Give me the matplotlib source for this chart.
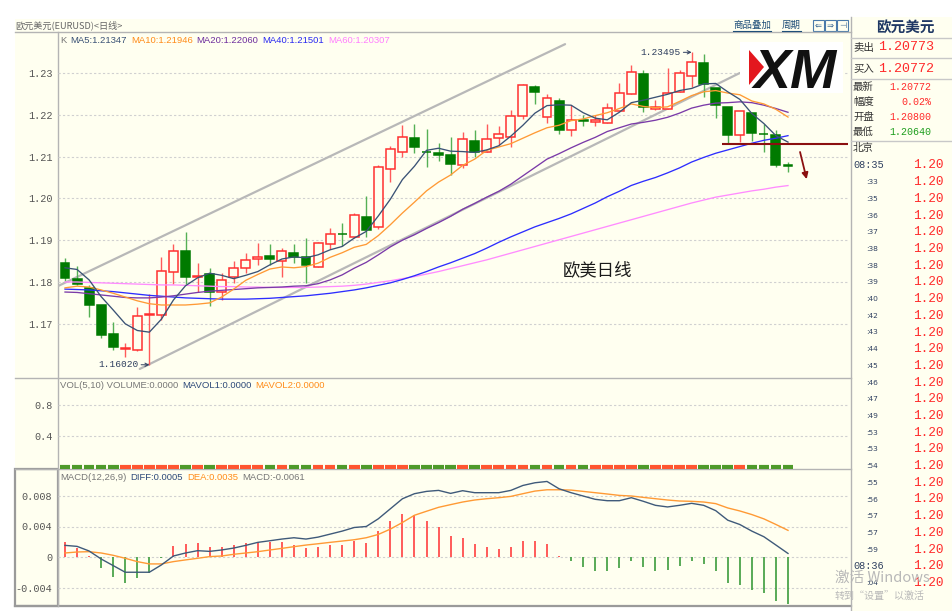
import matplotlib
matplotlib.use("Agg")
import matplotlib.pyplot as plt
from matplotlib.patches import Rectangle, Polygon

# ---------------- EURUSD daily candles ----------------
opens = [1.1845, 1.1807, 1.1786, 1.1745, 1.1676, 1.1639, 1.1637, 1.1722, 1.1721, 1.1824,
         1.1874, 1.1812, 1.1819, 1.1776, 1.1812, 1.1834, 1.1855, 1.1862, 1.1850, 1.1869,
         1.1860, 1.1836, 1.1891, 1.1916, 1.1908, 1.1955, 1.1932, 1.2070, 1.2111, 1.2144,
         1.2112, 1.2109, 1.2104, 1.2080, 1.2137, 1.2111, 1.2144, 1.2147, 1.2197, 1.2267,
         1.2195, 1.2233, 1.2164, 1.2188, 1.2183, 1.2180, 1.2209, 1.2250, 1.2298, 1.2214,
         1.2214, 1.2255, 1.2293, 1.2324, 1.2264, 1.2219, 1.2152, 1.2204, 1.2155, 1.2152,
         1.2080]
highs = [1.1857, 1.1838, 1.1793, 1.1745, 1.1704, 1.1654, 1.1740, 1.1771, 1.1860, 1.1891,
         1.1920, 1.1845, 1.1833, 1.1822, 1.1850, 1.1869, 1.1893, 1.1891, 1.1881, 1.1891,
         1.1905, 1.1896, 1.1929, 1.1941, 1.1965, 1.2006, 1.2080, 1.2125, 1.2176, 1.2178,
         1.2166, 1.2133, 1.2147, 1.2159, 1.2164, 1.2178, 1.2173, 1.2211, 1.2274, 1.2271,
         1.2250, 1.2240, 1.2223, 1.2200, 1.2200, 1.2228, 1.2276, 1.2319, 1.2307, 1.2235,
         1.2312, 1.2307, 1.23495, 1.2345, 1.2264, 1.2219, 1.2209, 1.2204, 1.2178, 1.2164,
         1.2087]
lows = [1.1802, 1.1793, 1.1716, 1.1666, 1.1637, 1.1621, 1.1636, 1.1602, 1.1709, 1.1795,
        1.1795, 1.1776, 1.1743, 1.1757, 1.1798, 1.1822, 1.1841, 1.1841, 1.1812, 1.1845,
        1.1798, 1.1836, 1.1879, 1.1886, 1.1905, 1.1908, 1.1927, 1.2039, 1.2099, 1.2109,
        1.2075, 1.2089, 1.2056, 1.2073, 1.2099, 1.2111, 1.2128, 1.2123, 1.2190, 1.2226,
        1.2180, 1.2155, 1.2149, 1.2173, 1.2173, 1.2180, 1.2209, 1.2250, 1.2207, 1.2211,
        1.2214, 1.2255, 1.2267, 1.2243, 1.2192, 1.2133, 1.2135, 1.2137, 1.2111, 1.2075,
        1.2064]
closes = [1.1810, 1.1795, 1.1745, 1.1673, 1.1644, 1.1641, 1.1719, 1.1724, 1.1826, 1.1874,
          1.1812, 1.1815, 1.1776, 1.1805, 1.1833, 1.1853, 1.1860, 1.1855, 1.1874, 1.1860,
          1.1841, 1.1893, 1.1915, 1.1914, 1.1960, 1.1924, 1.2075, 1.2118, 1.2147, 1.2123,
          1.2110, 1.2104, 1.2082, 1.2142, 1.2111, 1.2142, 1.2154, 1.2197, 1.2271, 1.2255,
          1.2240, 1.2164, 1.2188, 1.2185, 1.2188, 1.2216, 1.2252, 1.2302, 1.2219, 1.2219,
          1.2252, 1.2300, 1.2326, 1.2274, 1.2223, 1.2152, 1.2209, 1.2156, 1.2153, 1.2080,
          1.20772]

# ---------------- moving averages ----------------
ma5 = [1.1834, 1.1830, 1.1805, 1.1765, 1.1733, 1.1700, 1.1684, 1.1680, 1.1711, 1.1757,
       1.1791, 1.1810, 1.1821, 1.1816, 1.1808, 1.1816, 1.1825, 1.1841, 1.1855, 1.1860,
       1.1858, 1.1865, 1.1877, 1.1885, 1.1905, 1.1921, 1.1958, 1.1998, 1.2045, 1.2077,
       1.2115, 1.2120, 1.2113, 1.2112, 1.2110, 1.2116, 1.2126, 1.2149, 1.2175, 1.2204,
       1.2222, 1.2224, 1.2223, 1.2205, 1.2192, 1.2188, 1.2206, 1.2229, 1.2235, 1.2242,
       1.2249, 1.2258, 1.2263, 1.2274, 1.2275, 1.2255, 1.2237, 1.2203, 1.2179, 1.2150,
       1.21347]
ma10 = [1.1786, 1.1790, 1.1788, 1.1781, 1.1773, 1.1764, 1.1755, 1.1748, 1.1745, 1.1745,
        1.1745, 1.1747, 1.1750, 1.1764, 1.1783, 1.1804, 1.1818, 1.1831, 1.1836, 1.1834,
        1.1837, 1.1845, 1.1859, 1.1870, 1.1883, 1.1890, 1.1911, 1.1937, 1.1965, 1.1991,
        1.2018, 1.2039, 1.2056, 1.2079, 1.2094, 1.2115, 1.2123, 1.2131, 1.2144, 1.2157,
        1.2169, 1.2175, 1.2186, 1.2190, 1.2198, 1.2205, 1.2215, 1.2226, 1.2220, 1.2217,
        1.2219, 1.2232, 1.2246, 1.2255, 1.2258, 1.2252, 1.2248, 1.2233, 1.2226, 1.2213,
        1.21946]
ma20 = [1.1776, 1.1775, 1.1772, 1.1769, 1.1766, 1.1763, 1.1762, 1.1762, 1.1764, 1.1767,
        1.1771, 1.1775, 1.1778, 1.1780, 1.1782, 1.1784, 1.1786, 1.1787, 1.1788, 1.1790,
        1.1791, 1.1796, 1.1805, 1.1817, 1.1833, 1.1847, 1.1865, 1.1884, 1.1900, 1.1913,
        1.1928, 1.1942, 1.1957, 1.1974, 1.1988, 1.2003, 1.2017, 1.2034, 1.2054, 1.2074,
        1.2094, 1.2107, 1.2121, 1.2134, 1.2146, 1.2160, 1.2169, 1.2178, 1.2182, 1.2187,
        1.2194, 1.2204, 1.2216, 1.2223, 1.2228, 1.2229, 1.2231, 1.2229, 1.2223, 1.2215,
        1.22060]
ma40 = [1.1783, 1.1782, 1.1781, 1.1779, 1.1777, 1.1774, 1.1771, 1.1768, 1.1766, 1.1764,
        1.1762, 1.1761, 1.1760, 1.1759, 1.1759, 1.1759, 1.1760, 1.1761, 1.1763, 1.1765,
        1.1767, 1.1770, 1.1773, 1.1777, 1.1781, 1.1786, 1.1792, 1.1798, 1.1806, 1.1815,
        1.1825, 1.1836, 1.1846, 1.1857, 1.1868, 1.1881, 1.1895, 1.1908, 1.1920, 1.1932,
        1.1942, 1.1952, 1.1963, 1.1976, 1.1989, 1.2004, 1.2017, 1.2031, 1.2041, 1.2050,
        1.2061, 1.2073, 1.2087, 1.2098, 1.2108, 1.2116, 1.2124, 1.2132, 1.2139, 1.2144,
        1.21501]
ma60 = [1.1800, 1.1800, 1.1799, 1.1798, 1.1797, 1.1796, 1.1795, 1.1794, 1.1793, 1.1793,
        1.1792, 1.1791, 1.1790, 1.1789, 1.1789, 1.1788, 1.1788, 1.1787, 1.1787, 1.1787,
        1.1787, 1.1788, 1.1789, 1.1790, 1.1792, 1.1795, 1.1799, 1.1803, 1.1808, 1.1813,
        1.1819, 1.1825, 1.1832, 1.1839, 1.1846, 1.1853, 1.1861, 1.1869, 1.1877, 1.1885,
        1.1893, 1.1901, 1.1909, 1.1917, 1.1925, 1.1933, 1.1941, 1.1949, 1.1957, 1.1965,
        1.1973, 1.1981, 1.1989, 1.1996, 1.2003, 1.2008, 1.2013, 1.2018, 1.2022, 1.2027,
        1.20307]

# ---------------- volume (all zero in this feed) ----------------
volumes = [0.0] * 61

# ---------------- MACD(12,26,9) ----------------
diff = [0.00155, 0.00142, 0.00082, -0.00022, -0.00108, -0.00194, -0.00194, -0.00194, -0.00099, 0.00017,
        0.00056, 0.00086, 0.00077, 0.00095, 0.00120, 0.00155, 0.00194, 0.00215, 0.00237, 0.00254,
        0.00237, 0.00262, 0.00301, 0.00340, 0.00387, 0.00400, 0.00500, 0.00630, 0.00760, 0.00826,
        0.00856, 0.00869, 0.00830, 0.00865, 0.00839, 0.00839, 0.00839, 0.00869, 0.00933, 0.00968,
        0.00985, 0.00890, 0.00839, 0.00796, 0.00753, 0.00735, 0.00735, 0.00774, 0.00727, 0.00675,
        0.00654, 0.00675, 0.00701, 0.00675, 0.00606, 0.00482, 0.00426, 0.00340, 0.00267, 0.00159,
        0.0005]
dea = [0.00056, 0.00069, 0.00073, 0.00056, 0.00026, -0.00013, -0.00056, -0.00086, -0.00086, -0.00056,
       -0.00034, -0.00013, 0.00009, 0.00017, 0.00039, 0.00056, 0.00073, 0.00095, 0.00116, 0.00138,
       0.00159, 0.00176, 0.00194, 0.00211, 0.00228, 0.00254, 0.00297, 0.00366, 0.00452, 0.00546,
       0.00598, 0.00649, 0.00684, 0.00718, 0.00744, 0.00761, 0.00774, 0.00791, 0.00826, 0.00860,
       0.00877, 0.00877, 0.00873, 0.00856, 0.00839, 0.00822, 0.00804, 0.00796, 0.00778, 0.00761,
       0.00744, 0.00731, 0.00727, 0.00718, 0.00697, 0.00641, 0.00602, 0.00555, 0.00499, 0.00426,
       0.0035]
macd_hist = [0.00194, 0.00125, 0.00017, -0.00133, -0.00262, -0.00340, -0.00271, -0.00206, -0.00010, 0.00146,
             0.00172, 0.00185, 0.00133, 0.00129, 0.00155, 0.00181, 0.00202, 0.00194, 0.00194, 0.00159,
             0.00120, 0.00138, 0.00163, 0.00163, 0.00211, 0.00185, 0.00348, 0.00469, 0.00559, 0.00546,
             0.00469, 0.00391, 0.00275, 0.00254, 0.00176, 0.00138, 0.00108, 0.00129, 0.00206, 0.00215,
             0.00176, 0.00020, -0.00047, -0.00120, -0.00176, -0.00176, -0.00133, -0.00047, -0.00125, -0.00176,
             -0.00168, -0.00108, -0.00043, -0.00082, -0.00176, -0.00335, -0.00357, -0.00426, -0.00460, -0.00572,
             -0.0061]

price_ticks = [1.17, 1.18, 1.19, 1.20, 1.21, 1.22, 1.23]
vol_ticks = [0.4, 0.8]
macd_ticks = [-0.004, 0.0, 0.004, 0.008]

# hand-drawn analysis objects (bar index, price)
channel_upper = [(-0.6, 1.1790), (41.5, 1.2369)]
channel_lower = [(6.2, 1.1592), (56.0, 1.2300)]
support_level = 1.2130
support_from = 54.5
down_arrow = [(61.0, 1.2111), (61.55, 1.2046)]

quote_rows = [("最新", "1.20772", "#FF2A2A"), ("幅度", "0.02%", "#FF2A2A"),
              ("开盘", "1.20800", "#FF2A2A"), ("最低", "1.20640", "#1E9E1E")]
tick_times = ["08:35", ":33", ":35", ":36", ":37", ":38", ":38", ":39", ":40", ":42",
              ":43", ":44", ":45", ":46", ":47", ":49", ":53", ":53", ":54", ":55",
              ":56", ":57", ":57", ":59", "08:36", ":04"]

# ---------------- style ----------------
W, H = 952, 611
IVORY = "#FFFFF0"
GRID = "#D0D0D0"
SEP = "#B4B4B4"
UP = "#FF3030"
UP_WICK = "#FF5A5A"
DN = "#007A00"
DN_WICK = "#55B055"
CJK = ["Noto Sans CJK SC", "DejaVu Sans"]
MONO = "Liberation Mono"
SANS = "Liberation Sans"
C_MA5, C_MA10, C_MA20, C_MA40, C_MA60 = "#3A5275", "#FF9A35", "#7A3AA8", "#2D2DFF", "#FF8CFF"

X0, X1 = 58, 848          # chart column in pixels
STEP, FIRST = 12.05, 65   # bar spacing and first bar centre in pixels
XLIM = ((X0 - FIRST) / STEP, (X1 - FIRST) / STEP)
n = len(closes)
idx = list(range(n))


def rect(x0, y0, x1, y1):
    return [x0 / W, 1 - y1 / H, (x1 - x0) / W, (y1 - y0) / H]


fig = plt.figure(figsize=(W / 100, H / 100), dpi=100)
fig.patch.set_facecolor("white")
renderer = fig.canvas.get_renderer()

bg = fig.add_axes([0, 0, 1, 1], zorder=0)
bg.set_xlim(0, W)
bg.set_ylim(H, 0)
bg.axis("off")

fg = fig.add_axes([0, 0, 1, 1], zorder=10)
fg.set_xlim(0, W)
fg.set_ylim(H, 0)
fg.axis("off")

# panel backgrounds and separators
bg.add_patch(Rectangle((15, 19), 836, 588, facecolor=IVORY, edgecolor="none"))
bg.add_patch(Rectangle((851, 17), 101, 594, facecolor=IVORY, edgecolor="none"))
for yy in (32, 378, 469):
    bg.plot([15, 851], [yy, yy], color=SEP, lw=1.0)
bg.plot([15, 851], [606, 606], color="#9A9A9A", lw=1.6)
bg.plot([X0, X0], [32, 606], color=SEP, lw=1.0)
bg.plot([851, 851], [17, 611], color=SEP, lw=1.0)
bg.add_patch(Rectangle((15, 469), X0 - 15, 137, facecolor="none", edgecolor="#9A9A9A", lw=1.6))


def chain(axis, x, y, parts, size, family, gap=4.0, weight="normal"):
    for s, col in parts:
        t = axis.text(x, y, s, color=col, fontsize=size, family=family,
                      va="center", ha="left", weight=weight)
        x += t.get_window_extent(renderer=renderer).width + gap


def style_axis(a, ylim, ticks, labels):
    a.set_facecolor("none")
    a.set_xlim(*XLIM)
    a.set_ylim(*ylim)
    for s in a.spines.values():
        s.set_visible(False)
    a.set_xticks([])
    a.set_yticks(ticks)
    a.set_yticklabels(labels, fontfamily=MONO, fontsize=7.3, color="#555555")
    a.tick_params(axis="y", length=0, pad=4)
    for t in ticks:
        a.axhline(t, color=GRID, lw=0.8, ls=(0, (2, 2)), zorder=0.5)


# ---------------- price panel ----------------
ax = fig.add_axes(rect(X0, 32, X1, 378), zorder=2)
PX_PER = 4180.0
style_axis(ax, (1.23 - (378 - 73) / PX_PER, 1.23 + (73 - 32) / PX_PER),
           price_ticks, [f"{t:.2f}" for t in price_ticks])

for (k0, p0), (k1, p1) in (channel_upper, channel_lower):
    ax.plot([k0, k1], [p0, p1], color="#B8B8B8", lw=1.6, zorder=1.5, solid_capstyle="round")

bw = 0.74
for k in idx:
    o, h, l, c = opens[k], highs[k], lows[k], closes[k]
    up = c >= o
    col = UP if up else DN
    ax.vlines(k, l, h, color=UP_WICK if up else DN_WICK, lw=1.0, zorder=3)
    top, bot = max(o, c), min(o, c)
    if top - bot < 0.00012:
        ax.hlines((o + c) / 2, k - bw / 2, k + bw / 2, color=col, lw=1.8, zorder=4)
    else:
        ax.add_patch(Rectangle((k - bw / 2, bot), bw, top - bot,
                               facecolor=IVORY if up else DN, edgecolor=col, lw=1.1, zorder=4))

for series, colr in ((ma60, C_MA60), (ma40, C_MA40), (ma20, C_MA20), (ma10, C_MA10), (ma5, C_MA5)):
    ax.plot(idx, series, color=colr, lw=0.95, zorder=5)

ax.hlines(support_level, support_from, XLIM[1], color="#8B1010", lw=1.5, zorder=6)
ax.annotate("", xy=down_arrow[1], xytext=down_arrow[0],
            arrowprops=dict(arrowstyle="-|>", color="#8B1010", lw=1.3, mutation_scale=9,
                            shrinkA=0, shrinkB=0), zorder=6)

hi_k = highs.index(max(highs))
lo_k = lows.index(min(lows))
for k, val in ((hi_k, highs[hi_k]), (lo_k, lows[lo_k])):
    ax.annotate(f"{val:.5f}", xy=(k, val), xytext=(-11, 0), textcoords="offset pixels",
                ha="right", va="center", fontsize=6.8, family=MONO, color="#2F3F5F",
                arrowprops=dict(arrowstyle="->", color="#2F3F5F", lw=0.7, shrinkA=0, shrinkB=0,
                                mutation_scale=6), zorder=7)

# ---------------- volume panel ----------------
vax = fig.add_axes(rect(X0, 378, X1, 469), zorder=2)
style_axis(vax, (-(469 - 467) / 31 * 0.4, (467 - 378) / 31 * 0.4), vol_ticks, ["0.4", "0.8"])
vcols = ["#FF5530" if closes[k] >= opens[k] else "#4E9A2A" for k in idx]
vax.hlines(volumes, [k - 0.44 for k in idx], [k + 0.44 for k in idx], colors=vcols, lw=3, zorder=3)

# ---------------- MACD panel ----------------
mac = fig.add_axes(rect(X0, 469, X1, 606), zorder=2)
MPX = 7700.0
style_axis(mac, (-(606 - 557.3) / MPX, (557.3 - 469) / MPX), macd_ticks,
           ["-0.004", "0", "0.004", "0.008"])
hcols = ["#FF4040" if v > 0 else "#3C9C3C" for v in macd_hist]
mac.vlines(idx, 0, macd_hist, colors=hcols, lw=1.2, zorder=3)
mac.plot(idx, dea, color="#FF9A35", lw=1.0, zorder=4)
mac.plot(idx, diff, color="#3F5A7A", lw=1.0, zorder=5)

# ---------------- header and legends ----------------
bg.text(15, 25.5, "欧元美元(EURUSD)<日线>", family=CJK, fontsize=6.6, color="#666666", va="center")
chain(bg, 60, 40.5, [("K", "#777777"), (f"MA5:{ma5[-1]:.5f}", C_MA5),
                     (f"MA10:{ma10[-1]:.5f}", "#FF8C1A"), (f"MA20:{ma20[-1]:.5f}", "#6E2E9E"),
                     (f"MA40:{ma40[-1]:.5f}", "#2A2AF0"), (f"MA60:{ma60[-1]:.5f}", "#FF7FFF")],
      6.8, SANS, gap=4)
chain(bg, 60, 385, [(f"VOL(5,10) VOLUME:{volumes[-1]:.4f}", "#777777"),
                    (f"MAVOL1:{volumes[-1]:.4f}", "#2E4A7A"), (f"MAVOL2:{volumes[-1]:.4f}", "#FF8C1A")],
      6.8, SANS, gap=4)
chain(bg, 60, 477, [("MACD(12,26,9)", "#777777"), (f"DIFF:{diff[-1]:.4f}", "#2E4A7A"),
                    (f"DEA:{dea[-1]:.4f}", "#FF8C1A"), (f"MACD:{macd_hist[-1]:.4f}", "#777777")],
      6.8, SANS, gap=4)

bg.text(563, 270, "欧美日线", family=CJK, fontsize=12.5, color="#1A1A1A", va="center")

# toolbar links
for label, x0 in (("商品叠加", 733), ("周期", 782)):
    t = bg.text(x0, 25, label, family=CJK, fontsize=6.8, color="#1F4E79", va="center")
    wdt = t.get_window_extent(renderer=renderer).width
    bg.plot([x0, x0 + wdt], [31, 31], color="#1F4E79", lw=0.8)
for i, g in enumerate(["⇐", "⇒", "⊣"]):
    bx = 813 + i * 12
    bg.add_patch(Rectangle((bx, 19.5), 11, 11, facecolor="none", edgecolor="#4A7AAA", lw=0.8))
    bg.text(bx + 5.5, 25, g, fontsize=6, color="#2E5E8E", ha="center", va="center",
            family="DejaVu Sans")

# XM logo
fg.add_patch(Rectangle((740, 42), 103, 51, facecolor="white", edgecolor="none"))
fg.add_patch(Polygon([(749, 50), (764, 67), (749, 85)], closed=True, facecolor="#E3171E",
                     edgecolor="none"))
fg.text(754, 88, "XM", family=SANS, fontsize=40, weight="bold", style="italic",
        color="#111111", va="baseline", ha="left")

# ---------------- quote panel ----------------
for yy in (38, 58, 79, 141):
    bg.plot([851, 952], [yy, yy], color="#C8C8C8", lw=1.0)
bg.text(876, 27, "欧元美元", family=CJK, fontsize=10.5, weight="bold", color="#1F3864", va="center")
for label, val, yy in (("卖出", "1.20773", 47.5), ("买入", "1.20772", 68.5)):
    bg.text(853, yy, label, family=CJK, fontsize=7.5, color="#333333", va="center")
    bg.text(878, yy, val, family=MONO, fontsize=9.6, color="#FF2A2A", va="center")
for j, (label, val, colr) in enumerate(quote_rows):
    yy = 87 + j * 15
    bg.text(853, yy, label, family=CJK, fontsize=7.5, color="#333333", va="center")
    bg.text(931, yy, val, family=MONO, fontsize=7.2, color=colr, va="center", ha="right")
bg.text(853, 148, "北京", family=CJK, fontsize=7.5, color="#333333", va="center")
for j, tm in enumerate(tick_times):
    yy = 165.5 + j * 16.7
    if tm.startswith(":"):
        bg.text(866, yy, tm, family="DejaVu Sans", fontsize=5.4, color="#2F4060", va="center")
    else:
        bg.text(853, yy, tm, family=MONO, fontsize=7.4, color="#2F4060", va="center")
    bg.text(913, yy, "1.20", family=MONO, fontsize=9.2, color="#FF2A2A", va="center")

# system watermark
fg.text(835, 578, "激活 Windows", family=CJK, fontsize=10.5, color="#B8B8B8", va="center")
fg.text(835, 597, "转到“设置”以激活", family=CJK, fontsize=7.2, color="#B8B8B8", va="center")

fig.savefig("out.png", dpi=100)
